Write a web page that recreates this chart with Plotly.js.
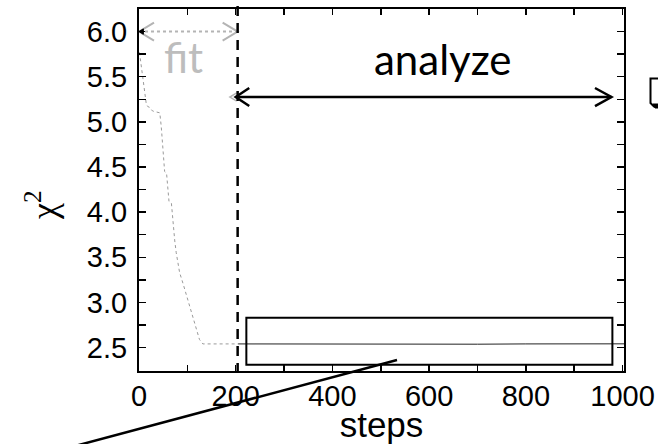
<!DOCTYPE html>
<html>
<head>
<meta charset="utf-8">
<script src="https://cdn.plot.ly/plotly-3.0.1.min.js"></script>
<style>html,body{margin:0;padding:0;background:#fff;}#chart{width:658px;height:444px;}</style>
</head>
<body>
<div id="chart"></div>
<script>
// ---- data ----
const fitSteps = [1, 4, 8, 12, 15, 18, 22, 28, 35, 43, 46, 48, 50, 53, 57, 60, 62, 67, 70, 74, 77, 84, 91, 101, 108, 115, 125, 132, 150, 175, 205];
const fitChi2  = [5.77, 5.65, 5.47, 5.30, 5.20, 5.17, 5.16, 5.12, 5.11, 5.10, 4.95, 4.80, 4.62, 4.45, 4.43, 4.25, 4.12, 4.10, 3.88, 3.68, 3.55, 3.33, 3.21, 3.03, 2.92, 2.77, 2.59, 2.54, 2.54, 2.535, 2.54];
const analyzeSteps = [205, 300, 400, 500, 600, 700, 800, 900, 1003];
const analyzeChi2  = [2.540, 2.538, 2.541, 2.539, 2.540, 2.537, 2.540, 2.539, 2.541];
const xTickVals = [0, 100, 200, 300, 400, 500, 600, 700, 800, 900, 1000];
const xTickText = ['0', '', '200', '', '400', '', '600', '', '800', '', '1000'];
const yTickVals = [2.5, 2.75, 3.0, 3.25, 3.5, 3.75, 4.0, 4.25, 4.5, 4.75, 5.0, 5.25, 5.5, 5.75, 6.0];
const yTickText = ['2.5', '', '3.0', '', '3.5', '', '4.0', '', '4.5', '', '5.0', '', '5.5', '', '6.0'];
const splitStep = 204;       // fit / analyze boundary
const fitArrowY = 6.0;
const analyzeArrowY = 5.275;
const analyzeArrowEnd = 977;
const boxX = [222, 979];
const boxY = [2.31, 2.83];

// ---- layout helpers (pixel -> paper) ----
const M = {l: 139, r: 34, t: 9, b: 73};
const W = 658, H = 444;
const pw = W - M.l - M.r, ph = H - M.t - M.b;
const px = v => (v - M.l) / pw;
const py = v => (H - M.b - v) / ph;

const gray = '#b4b4b4';
function chevron(tipX, tipY, dx, dy, color, width) {
  return {type: 'path', xref: 'x', yref: 'y',
    path: `M ${tipX + dx},${tipY + dy} L ${tipX},${tipY} L ${tipX + dx},${tipY - dy}`,
    line: {color: color, width: width}};
}

const traces = [
  {x: fitSteps, y: fitChi2, mode: 'lines', line: {color: '#9a9a9a', width: 1, dash: 'dot'}, hoverinfo: 'skip'},
  {x: analyzeSteps, y: analyzeChi2, mode: 'lines', line: {color: '#222', width: 1}, hoverinfo: 'skip'}
];

const tickFont = {family: 'Liberation Sans, Arial, sans-serif', size: 29, color: '#000'};

const shapes = [
  // fit arrow (gray)
  {type: 'line', xref: 'x', yref: 'y', x0: 0, x1: splitStep, y0: fitArrowY, y1: fitArrowY, line: {color: gray, width: 2, dash: 'dot'}},
  chevron(0, fitArrowY, 31, 0.1, gray, 2),
  chevron(splitStep, fitArrowY, -31, 0.1, gray, 2),
  {type: 'path', xref: 'x', yref: 'y', path: `M 0,${fitArrowY} L 9,${fitArrowY + 0.03} L 9,${fitArrowY - 0.03} Z`, fillcolor: '#000', line: {color: '#000', width: 1}},
  // small gray arrowhead left of the boundary
  chevron(188, analyzeArrowY, 14, 0.045, gray, 1.5),
  // analyze arrow (black)
  {type: 'line', xref: 'x', yref: 'y', x0: 200, x1: analyzeArrowEnd, y0: analyzeArrowY, y1: analyzeArrowY, line: {color: '#000', width: 2.5}},
  chevron(200, analyzeArrowY, 28, 0.1, '#000', 2.5),
  chevron(analyzeArrowEnd, analyzeArrowY, -34, 0.1, '#000', 2.5),
  // dashed boundary
  {type: 'line', xref: 'x', yref: 'paper', x0: splitStep, x1: splitStep, y0: py(373), y1: py(0), line: {color: '#000', width: 2.5, dash: '10px,7px'}},
  // box round the analyzed plateau
  {type: 'rect', xref: 'x', yref: 'y', x0: boxX[0], x1: boxX[1], y0: boxY[0], y1: boxY[1], line: {color: '#000', width: 2}},
  // diagonal pointer line
  {type: 'line', xref: 'paper', yref: 'paper', x0: px(75), y0: py(446), x1: px(397), y1: py(360), line: {color: '#000', width: 2.5}},
  // cropped element at right edge
  {type: 'path', xref: 'paper', yref: 'paper',
   path: `M ${px(659)},${py(78.5)} L ${px(650.5)},${py(78.5)} L ${px(650.5)},${py(103)} L ${px(654)},${py(106.5)} L ${px(659)},${py(106.5)}`,
   line: {color: '#000', width: 2}},
  {type: 'path', xref: 'paper', yref: 'paper',
   path: `M ${px(653)},${py(104)} L ${px(659)},${py(104)} L ${px(659)},${py(108)} L ${px(655)},${py(108)} Z`,
   fillcolor: '#000', line: {color: '#000', width: 1}}
];

const annotations = [
  {text: 'analyze', xref: 'paper', yref: 'paper', x: px(442.5), y: py(59), xanchor: 'center', yanchor: 'middle', showarrow: false,
   font: {family: 'Lato, sans-serif', size: 42, color: '#000'}},
  {text: 'fit', xref: 'paper', yref: 'paper', x: px(183), y: py(57), xanchor: 'center', yanchor: 'middle', showarrow: false,
   font: {family: 'Lato, sans-serif', size: 42, color: '#bdbdbd'}},
  {text: 'χ<sup>2</sup>', xref: 'paper', yref: 'paper', x: px(42), y: py(205), xanchor: 'center', yanchor: 'middle', showarrow: false, textangle: -90,
   font: {family: 'Liberation Serif, serif', size: 36, color: '#000'}}
];

const layout = {
  width: W, height: H,
  margin: M,
  paper_bgcolor: '#fff', plot_bgcolor: '#fff',
  showlegend: false,
  xaxis: {
    range: [0, 1003], tickvals: xTickVals, ticktext: xTickText,
    ticks: 'inside', ticklen: 6, tickwidth: 1.5, tickcolor: '#000',
    showline: true, linewidth: 2, linecolor: '#000', mirror: 'ticks',
    showgrid: false, zeroline: false, tickfont: tickFont, ticklabelstandoff: -2,
    title: {text: 'steps', standoff: 3, font: {family: 'Liberation Sans, Arial, sans-serif', size: 35, color: '#000'}}
  },
  yaxis: {
    range: [2.24, 6.25], tickvals: yTickVals, ticktext: yTickText,
    ticks: 'inside', ticklen: 7, tickwidth: 1.5, tickcolor: '#000',
    showline: true, linewidth: 2, linecolor: '#000', mirror: 'ticks',
    showgrid: false, zeroline: false, tickfont: tickFont, ticklabelstandoff: 4
  },
  shapes: shapes,
  annotations: annotations
};

Plotly.newPlot('chart', traces, layout, {staticPlot: true, displayModeBar: false});
</script>
</body>
</html>
